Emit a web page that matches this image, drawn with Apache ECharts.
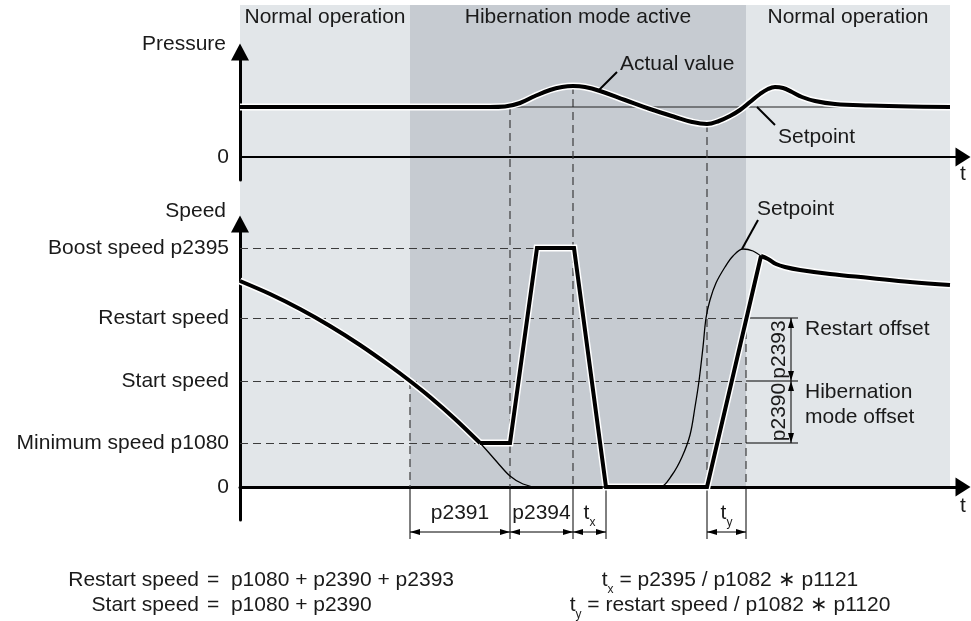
<!DOCTYPE html>
<html><head><meta charset="utf-8">
<script src="https://cdn.jsdelivr.net/npm/echarts@6/dist/echarts.min.js"></script>
<style>html,body{margin:0;padding:0;background:#fff}#c{width:971px;height:621px}</style>
</head><body><div id="c"></div>
<script>
// ---------------- data ----------------
const phaseNames = ['Normal operation', 'Hibernation mode active', 'Normal operation'];
const phaseBounds = [0, 170, 506, 710];
const timeAxisMax = 723;

const pressureTickValues = [0];
const pressureTickLabels = ['0'];
const pressureSetpoint = [[0, 50], [710, 50]];
const pressureActual = [[0,50],[250,50],[265,50.5],[280,54],[295,61],[310,67],[322,70],[333,71],[345,70],[360,66],[385,57],[410,48],[435,40],[452,35],[467,33],[479,36],[490,41],[500,47],[510,55],[520,63],[528,68],[535,70],[543,69],[552,65],[562,60],[575,56],[595,53],[630,51.5],[670,50.5],[710,50]];

const speedTickValues = [0, 44, 106, 169, 239];
const speedTickLabels = ['0', 'Minimum speed p1080', 'Start speed', 'Restart speed', 'Boost speed p2395'];
const speedGuideLevels = [44, 106, 169, 239];
const speedGuideEnds = [506, 506, 506, 297];
const speedActualDecel = [[0,206],[30,193],[60,178],[90,161],[120,142],[150,121],[170,106],[190,90],[215,68],[240,44]];
const speedActualRamps = [[240,44],[270,44],[297,239],[334,239],[366,0],[467,0],[521,231]];
const speedActualRecovery = [[521,231],[528,228],[536,223],[545,220],[560,217],[590,213],[630,209],[670,205],[710,202]];
const speedSetpoint = [[0,206],[30,193],[60,178],[90,161],[120,142],[150,121],[170,106],[190,90],[215,68],[240,44],[257,25],[270,11],[283,3],[297,0],[410,0],[420,0],[432,12],[442,30],[450,52],[455,80],[459,106],[463,140],[466,169],[470,187],[476,204],[485,220],[493,231],[503,238],[513,236],[522,230]];

// dashed guide verticals: time, grid it starts in, value it starts at
const guideTimes = [170, 270, 333, 467, 506];
const guideGrids = [1, 0, 0, 0, 1];
const guideValues = [106, 50, 71, 33, 169];

// bottom time dimensions
const dimTimes = [170, 270, 333, 366, 467, 506];
const dimStarts = [170, 270, 333, 467];
const dimEnds = [270, 333, 366, 506];
const dimLabels = ['p2391', 'p2394', '{m|t}{s|x}', '{m|t}{s|y}'];

// right speed dimensions
const offsetTime = 551;
const offsetExtStart = 506, offsetExtEnd = 558;
const offsetLevels = [169, 106, 44];
const offsetCodes = ['p2393', 'p2390'];
const offsetNames = ['Restart offset', 'Hibernation\nmode offset'];

// ---------------- style ----------------
const FONT = '"Liberation Sans", Arial, Helvetica, sans-serif';
const TXT = '#1a1a1a';
const FS = 21;
const LIGHT = '#E2E6E9', DARK = '#C6CBD1';
const DASHC = '#3c3c3c';

const chart = echarts.init(document.getElementById('c'), null, { renderer: 'canvas' });

function xAx(i) {
  return {
    gridIndex: i, type: 'value', min: 0, max: timeAxisMax, show: i < 2,
    axisLine: { show: true, onZero: true, lineStyle: { color: '#000', width: i === 0 ? 2 : 3 }, symbol: ['none', 'triangle'], symbolSize: [19, 15] },
    axisTick: { show: false }, axisLabel: { show: false }, splitLine: { show: false },
    name: i < 2 ? 't' : '', nameLocation: 'end', nameGap: 0,
    nameTextStyle: { color: TXT, fontSize: FS, fontFamily: FONT, align: 'center', verticalAlign: 'top', padding: [i === 0 ? 7 : 9, 0, 0, 0] }
  };
}
function yAx(i, min, max, vals, labels, name, gap) {
  return {
    gridIndex: i, type: 'value', min: min, max: max,
    axisLine: { show: true, onZero: false, lineStyle: { color: '#000', width: 3 }, symbol: ['none', 'triangle'], symbolSize: [18, 17] },
    axisTick: { show: false }, splitLine: { show: false },
    axisLabel: { show: true, customValues: vals, formatter: function (v) { const k = vals.indexOf(v); return k >= 0 ? labels[k] : ''; }, color: TXT, fontSize: FS, fontFamily: FONT, margin: 11 },
    name: name, nameLocation: 'end', nameGap: gap,
    nameTextStyle: { color: TXT, fontSize: FS, fontFamily: FONT, align: 'right', verticalAlign: 'middle', padding: [0, 14, 0, 0] }
  };
}
function halo(g, data, smooth) {
  return { type: 'line', xAxisIndex: g, yAxisIndex: g, data: data, smooth: smooth, symbol: 'none', silent: true, z: 4,
    lineStyle: { color: '#fff', width: 7, join: 'miter', cap: 'butt' } };
}
function thick(g, data, smooth) {
  return { type: 'line', xAxisIndex: g, yAxisIndex: g, data: data, smooth: smooth, symbol: 'none', silent: true, z: 5,
    lineStyle: { color: '#000', width: 4, join: 'miter', cap: 'butt' } };
}

const option = {
  animation: false,
  backgroundColor: '#fff',
  textStyle: { fontFamily: FONT },
  grid: [
    { left: 240, right: 8, top: 52, height: 128, outerBoundsMode: 'none' },
    { left: 240, right: 8, top: 224, height: 296, outerBoundsMode: 'none' },
    { left: 240, right: 8, top: 5, height: 482, outerBoundsMode: 'none' }
  ],
  xAxis: [xAx(0), xAx(1), xAx(2)],
  yAxis: [
    yAx(0, -23, 105, pressureTickValues, pressureTickLabels, 'Pressure', 8),
    yAx(1, -33, 263, speedTickValues, speedTickLabels, 'Speed', 13),
    { gridIndex: 2, type: 'value', min: 0, max: 1, show: false }
  ],
  series: [
    { type: 'line', xAxisIndex: 2, yAxisIndex: 2, data: [[0, 0]], symbol: 'none', silent: true, lineStyle: { width: 0 },
      markArea: { silent: true, z: -1,
        label: { show: true, position: 'insideTop', distance: 2, color: TXT, fontSize: FS, fontFamily: FONT },
        data: phaseNames.map(function (n, i) { return [{ name: n, xAxis: phaseBounds[i], itemStyle: { color: i === 1 ? DARK : LIGHT } }, { xAxis: phaseBounds[i + 1] }]; })
      } },
    { type: 'line', xAxisIndex: 0, yAxisIndex: 0, data: pressureSetpoint, symbol: 'none', silent: true, z: 3, lineStyle: { color: '#222', width: 1 } },
    halo(0, pressureActual, 0.4),
    thick(0, pressureActual, 0.4),
    halo(1, speedActualDecel, 0.3), halo(1, speedActualRamps, 0), halo(1, speedActualRecovery, 0.4),
    thick(1, speedActualDecel, 0.3), thick(1, speedActualRamps, 0), thick(1, speedActualRecovery, 0.4),
    { type: 'line', xAxisIndex: 1, yAxisIndex: 1, data: speedSetpoint, smooth: 0.35, symbol: 'none', silent: true, z: 6,
      lineStyle: { color: '#000', width: 1.3 },
      markLine: { silent: true, z: 1, symbol: 'none', label: { show: false },
        lineStyle: { color: DASHC, width: 1.2, type: [8, 5] },
        data: speedGuideLevels.map(function (v, i) { return [{ coord: [0, v] }, { coord: [speedGuideEnds[i], v] }]; })
      } }
  ]
};
chart.setOption(option);

// ---------------- annotations positioned through the axes ----------------
const P = function (g, t, v) { return chart.convertToPixel({ gridIndex: g }, [t, v]); };
const els = [];
function seg(a, b, style, z) {
  els.push({ type: 'line', silent: true, z: z == null ? 2 : z, shape: { x1: a[0], y1: a[1], x2: b[0], y2: b[1] }, style: Object.assign({ stroke: '#000', lineWidth: 1 }, style || {}) });
}
function head(tip, dx, dy) {
  const L = 10, W = 3; const bx = tip[0] - dx * L, by = tip[1] - dy * L;
  els.push({ type: 'polygon', silent: true, z: 2, shape: { points: [[tip[0], tip[1]], [bx - dy * W, by + dx * W], [bx + dy * W, by - dx * W]] }, style: { fill: '#000' } });
}
const RICH = { m: { fontSize: FS, fontFamily: FONT, fill: TXT, color: TXT }, s: { fontSize: 12, fontFamily: FONT, fill: TXT, color: TXT, padding: [20, 0, 0, 0] } };
function text(x, y, str, align, extra) {
  const e = Object.assign({ type: 'text', silent: true, z: 3, x: x, y: y, style: { text: str, fill: TXT, fontSize: FS, fontFamily: FONT, align: align || 'left', verticalAlign: 'middle', textAlign: align || 'left', textVerticalAlign: 'middle', rich: RICH, lineHeight: 25 } }, extra || {});
  els.push(e);
}

// vertical dashed guides
guideTimes.forEach(function (t, i) {
  const a = P(guideGrids[i], t, guideValues[i]);
  const b = P(1, t, 0);
  seg(a, b, { stroke: DASHC, lineWidth: 1.2, lineDash: [8, 5] }, 1);
});
// bottom dimensions
dimTimes.forEach(function (t) { seg(P(1, t, 0), P(1, t, -52)); });
dimStarts.forEach(function (t0, i) {
  const a = P(1, t0, -45), b = P(1, dimEnds[i], -45);
  seg(a, b);
  head(a, -1, 0); head(b, 1, 0);
  const c = P(1, (t0 + dimEnds[i]) / 2, -26);
  text(c[0], c[1], dimLabels[i], 'center');
});
// right dimensions
offsetLevels.forEach(function (v) { seg(P(1, offsetExtStart, v), P(1, offsetExtEnd, v)); });
for (let i = 0; i < 2; i++) {
  const a = P(1, offsetTime, offsetLevels[i]), b = P(1, offsetTime, offsetLevels[i + 1]);
  seg(a, b);
  head(a, 0, -1); head(b, 0, 1);
  const mid = P(1, offsetTime, (offsetLevels[i] + offsetLevels[i + 1]) / 2);
  text(mid[0] - 12, mid[1], offsetCodes[i], 'center', { rotation: Math.PI / 2 });
}
const r1 = P(1, offsetTime, (offsetLevels[0] + offsetLevels[1]) / 2);
text(r1[0] + 14, r1[1] - 20, offsetNames[0], 'left');
const r2 = P(1, offsetTime, (offsetLevels[1] + offsetLevels[2]) / 2);
text(r2[0] + 14, r2[1] - 7, offsetNames[1], 'left');

// leader lines
const pa = P(0, 358, 66);
seg(pa, [pa[0] + 19, pa[1] - 19], { lineWidth: 2 }, 6);
text(pa[0] + 22, pa[1] - 27, 'Actual value', 'left');
const ps = P(0, 517, 50);
seg(ps, [ps[0] + 18, ps[1] + 18], { lineWidth: 2 }, 6);
text(ps[0] + 21, ps[1] + 30, 'Setpoint', 'left');
const ss = P(1, 502, 238);
seg(ss, [ss[0] + 16, ss[1] - 29], { lineWidth: 2 }, 6);
text(ss[0] + 15, ss[1] - 40, 'Setpoint', 'left');

// formulas
text(199, 580, 'Restart speed', 'right');
text(207, 580, '=  p1080 + p2390 + p2393', 'left');
text(199, 605, 'Start speed', 'right');
text(207, 605, '=  p1080 + p2390', 'left');
text(730, 580, '{m|t}{s|x}{m| = p2395 / p1082 \u2217 p1121}', 'center');
text(730, 605, '{m|t}{s|y}{m| = restart speed / p1082 \u2217 p1120}', 'center');

chart.setOption({ graphic: { elements: els } });
</script>
</body></html>
